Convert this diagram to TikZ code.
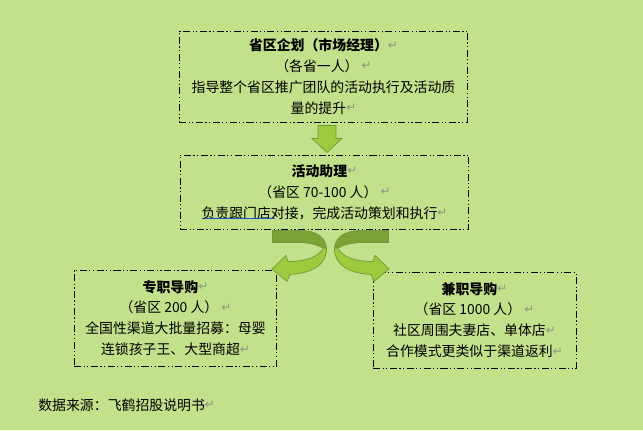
\documentclass[tikz,border=0pt]{standalone}
\usepackage{fontspec}
\setmainfont{Noto Sans CJK SC}
\newfontfamily\markfont{DejaVu Sans}
\usetikzlibrary{calc}

\definecolor{bgcol}{RGB}{195,224,139}
\definecolor{arrowlight}{RGB}{156,204,62}
\definecolor{arrowdark}{RGB}{122,162,52}
\definecolor{arrowline}{RGB}{118,150,60}
\definecolor{markgray}{RGB}{140,150,130}
\definecolor{ulblue}{RGB}{30,80,200}

\newcommand\boxfont{\fontsize{7.9}{11.9}\selectfont}
\newcommand\retmark{\raisebox{0.9pt}{\markfont\color{markgray}\fontsize{6.8}{6.8}\selectfont ↵}}

\begin{document}
\begin{tikzpicture}[x=0.02cm,y=-0.02cm,
  box/.style={draw=black, line width=0.55pt,
    dash pattern=on 4pt off 1.4pt on 0.7pt off 1.4pt on 0.7pt off 1.4pt,
    inner sep=0pt, align=center, font=\boxfont},
  blockarrow/.style={fill=arrowlight, draw=arrowline, line width=0.4pt},
  backside/.style={fill=arrowdark, draw=arrowline, line width=0.4pt}]

\fill[bgcol] (0,0) rectangle (643,430);

% boxes
\node[box, minimum width=5.78cm, minimum height=1.82cm] (plan) at (323.5,76.5)
  {\textbf{省区企划（市场经理）}\retmark\\（各省一人）\ \retmark\\
   指导整个省区推广团队的活动执行及活动质\\量的提升\retmark};
\node[box, minimum width=5.78cm, minimum height=1.48cm] (assist) at (324.5,192)
  {\textbf{活动助理}\retmark\\（省区 70-100 人）\ \retmark\\
   负责跟门店对接，完成活动策划和执行\retmark};
\node[box, minimum width=4.06cm, minimum height=1.92cm] (fulltime) at (175.5,318)
  {\textbf{专职导购}\retmark\\（省区 200 人）\ \retmark\\
   全国性渠道大批量招募：母婴\\连锁孩子王、大型商超\retmark};
\node[box, minimum width=4.06cm, minimum height=1.92cm] (parttime) at (474.5,320)
  {\textbf{兼职导购}\retmark\\（省区 1000 人）\ \retmark\\
   社区周围夫妻店、单体店\retmark\\合作模式更类似于渠道返利\retmark};

\draw[ulblue, line width=0.8pt] (205,218.5) -- (275,218.5);

% down arrow
\begin{scope}[shift={(plan.south)}]
\draw[blockarrow] (-5.5,3) -- (12.5,3) -- (12.5,16) -- (18.5,16) -- (3.5,30)
  -- (-11.5,16) -- (-5.5,16) -- cycle;
\end{scope}

% curved arrows
\foreach \s in {1,-1}{
\begin{scope}[shift={($(assist.south)+(6,0)$)}, xscale=\s]
\draw[backside] (-58,1) -- (-30.5,1) .. controls (-12.5,1) and (-3.5,9) .. (-4,21)
  .. controls (-8.5,17) and (-18.5,13) .. (-32.5,13) -- (-58,13) -- cycle;
\draw[blockarrow] (-4,19) .. controls (-3.5,35) and (-18.5,44) .. (-40.5,45)
  -- (-43.5,52) -- (-58.5,39.5) -- (-44.5,26) -- (-42.5,32)
  .. controls (-24.5,32) and (-12.5,28) .. (-6.5,18) -- cycle;
\end{scope}
}

\node[anchor=west, inner sep=0pt, font=\boxfont] (source) at (38,405)
  {数据来源：飞鹤招股说明书\retmark};
\end{tikzpicture}
\end{document}
